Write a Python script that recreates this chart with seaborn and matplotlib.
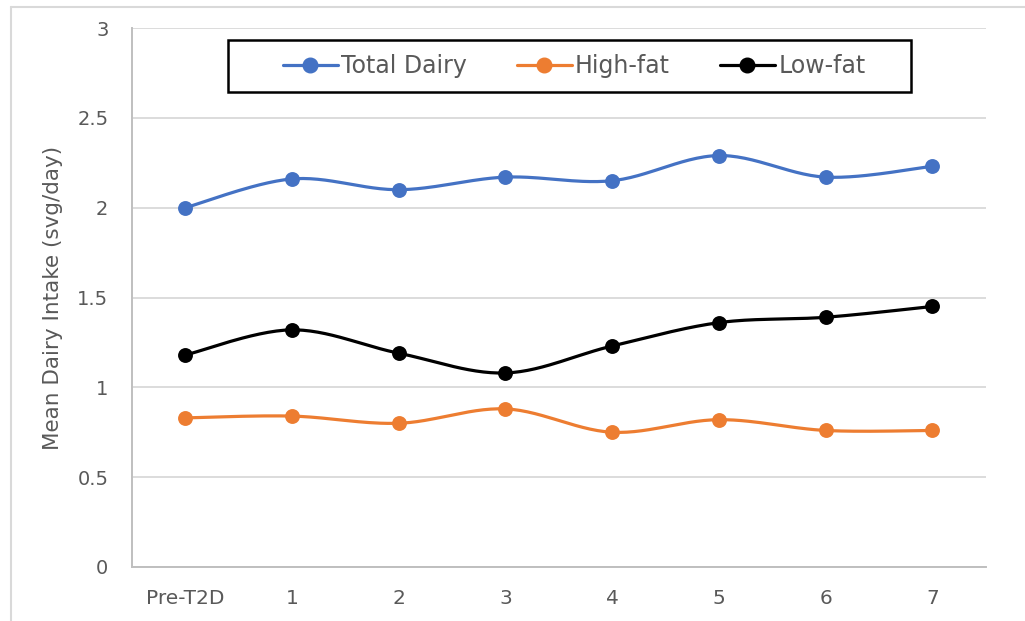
import numpy as np
import pandas as pd
import matplotlib
matplotlib.use("Agg")
import matplotlib.pyplot as plt
import seaborn as sns
from matplotlib.lines import Line2D
from matplotlib.patches import Rectangle

# data
periods = ["Pre-T2D", "1", "2", "3", "4", "5", "6", "7"]
total_dairy = [2.00, 2.16, 2.10, 2.17, 2.15, 2.29, 2.17, 2.23]
high_fat = [0.83, 0.84, 0.80, 0.88, 0.75, 0.82, 0.76, 0.76]
low_fat = [1.18, 1.32, 1.19, 1.08, 1.23, 1.36, 1.39, 1.45]

series = [("Total Dairy", total_dairy, "#4472C4"),
          ("High-fat", high_fat, "#ED7D31"),
          ("Low-fat", low_fat, "#000000")]


def smooth(xs, ys, n=30):
    # Excel-style smoothed line: cubic bezier with catmull-rom control points
    px = np.asarray(xs, float)
    py = np.asarray(ys, float)
    outx, outy = [], []
    for i in range(len(px) - 1):
        p0 = (px[max(i - 1, 0)], py[max(i - 1, 0)])
        p1 = (px[i], py[i])
        p2 = (px[i + 1], py[i + 1])
        p3 = (px[min(i + 2, len(px) - 1)], py[min(i + 2, len(px) - 1)])
        c1 = (p1[0] + (p2[0] - p0[0]) / 6, p1[1] + (p2[1] - p0[1]) / 6)
        c2 = (p2[0] - (p3[0] - p1[0]) / 6, p2[1] - (p3[1] - p1[1]) / 6)
        t = np.linspace(0, 1, n)
        b0, b1, b2, b3 = (1 - t) ** 3, 3 * t * (1 - t) ** 2, 3 * t ** 2 * (1 - t), t ** 3
        outx.extend(b0 * p1[0] + b1 * c1[0] + b2 * c2[0] + b3 * p2[0])
        outy.extend(b0 * p1[1] + b1 * c1[1] + b2 * c2[1] + b3 * p2[1])
    return np.array(outx), np.array(outy)


sns.set_theme(style="white")
plt.rcParams["font.family"] = ["DejaVu Sans"]
grey = "#595959"

fig = plt.figure(figsize=(10.25, 6.21), dpi=100)
ax = fig.add_axes([132 / 1025, 54 / 621, (985.6 - 132) / 1025, (567 - 28) / 621])

pos = np.arange(len(periods))
for name, vals, color in series:
    sx, sy = smooth(pos, vals)
    sns.lineplot(x=sx, y=sy, sort=False, estimator=None, color=color, lw=2.3, ax=ax)
    sns.scatterplot(x=pos, y=vals, color=color, s=115, edgecolor=color, linewidth=0, ax=ax, zorder=3)

ax.set_xlim(-0.5, len(periods) - 0.5)
ax.set_ylim(0, 3)
ax.set_yticks(np.arange(0, 3.01, 0.5))
ax.set_yticklabels(["0", "0.5", "1", "1.5", "2", "2.5", "3"])
ax.set_xticks(pos)
ax.set_xticklabels(periods)
ax.tick_params(axis="y", length=0, pad=17, labelsize=14, labelcolor=grey)
ax.tick_params(axis="x", length=0, pad=16, labelsize=14.5, labelcolor=grey)
ax.yaxis.grid(True, color="#D9D9D9", lw=1.3)
ax.set_axisbelow(True)
for side in ["top", "right"]:
    ax.spines[side].set_visible(False)
for side in ["left", "bottom"]:
    ax.spines[side].set_color("#BFBFBF")
    ax.spines[side].set_linewidth(1.4)
ax.set_ylabel("Mean Dairy Intake (svg/day)", fontsize=15.5, color=grey, labelpad=10)
ax.set_xlabel("")

# legend box drawn separately so the side padding can match the reference
ax.add_patch(Rectangle((0.1125, 0.8813), 0.8001, 0.0964, transform=ax.transAxes,
                       fill=True, facecolor="white", edgecolor="black", lw=1.8,
                       zorder=4, clip_on=False))
handles = [Line2D([], [], color=c, lw=2.3, marker="o", markersize=10.5) for _, _, c in series]
leg = ax.legend(handles, [s[0] for s in series], ncol=3, loc="center",
                bbox_to_anchor=(0.5178, 0.9295), fontsize=17, frameon=False,
                handlelength=2.33, handletextpad=0.15, columnspacing=2.1,
                labelcolor=grey)
leg.set_zorder(5)

# chart border like the excel chart area
fig.add_artist(Line2D([11 / 1025, 11 / 1025], [0, 1 - 6.5 / 621], color="#D9D9D9", lw=1.5))
fig.add_artist(Line2D([11 / 1025, 1], [1 - 6.5 / 621, 1 - 6.5 / 621], color="#D9D9D9", lw=1.5))

fig.savefig("out.png", dpi=100)
